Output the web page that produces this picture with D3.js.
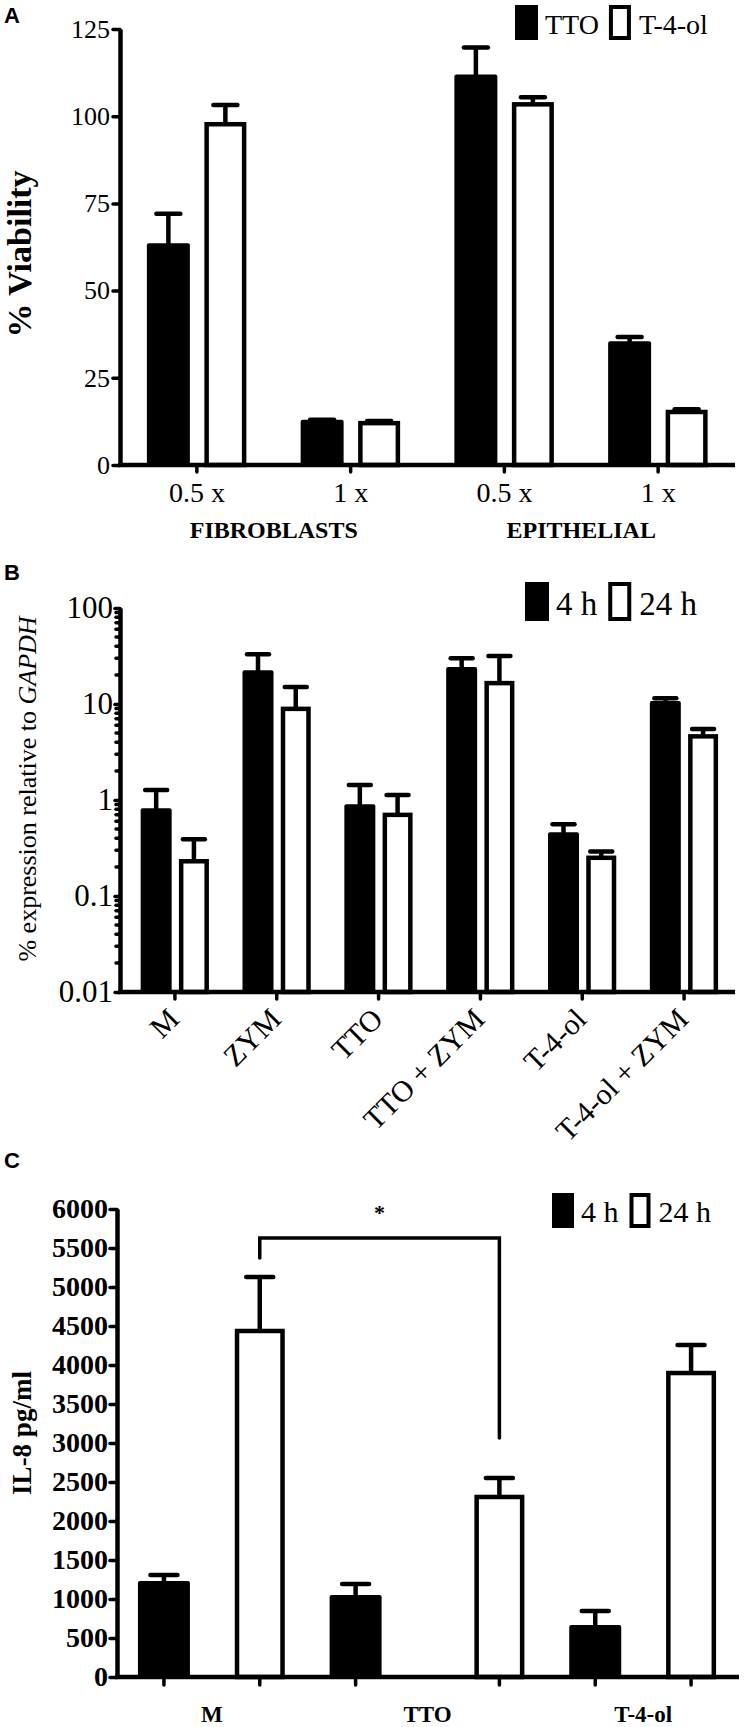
<!DOCTYPE html>
<html><head><meta charset="utf-8">
<script src="https://cdn.jsdelivr.net/npm/d3@7"></script>
<style>body{margin:0;background:#fff}</style>
</head><body>
<svg id="chart" width="744" height="1727"></svg>
<script>
// ---------- Panel A data ----------
const aDoses = ["0.5 x", "1 x", "0.5 x", "1 x"];
const aCellTypes = ["FIBROBLASTS", "EPITHELIAL"];
const aSeries = ["TTO", "T-4-ol"];
const aTTO = [63.3, 12.7, 111.7, 35.2];
const aTTOErr = [8.7, 0.3, 8.0, 1.5];
const aT4ol = [97.7, 12.0, 103.4, 15.2];
const aT4olErr = [5.5, 0.6, 2.0, 0.8];
const aTicks = [0, 25, 50, 75, 100, 125];

// ---------- Panel B data ----------
const bCategories = ["M", "ZYM", "TTO", "TTO + ZYM", "T-4-ol", "T-4-ol + ZYM"];
const bSeries = ["4 h", "24 h"];
const b4h = [0.80, 22, 0.88, 23.7, 0.45, 10.5];
const b4hErr = [0.47, 11, 0.55, 6.3, 0.11, 1.0];
const b24h = [0.23, 8.9, 0.70, 16.5, 0.25, 4.6];
const b24hErr = [0.16, 6.1, 0.43, 15.1, 0.04, 0.9];
const bTicks = [0.01, 0.1, 1, 10, 100];
const bTickLabels = ["0.01", "0.1", "1", "10", "100"];

// ---------- Panel C data ----------
const cGroups = ["M", "TTO", "T-4-ol"];
const cSeries = ["4 h", "24 h"];
const c4h = [1218, 1038, 654];
const c4hErr = [90, 154, 192];
const c24h = [4436, 2308, 3897];
const c24hErr = [692, 243, 359];
const c4hSlots = [0, 2, 4.5];
const c24hSlots = [1, 3.5, 5.5];
const cTicks = [0, 500, 1000, 1500, 2000, 2500, 3000, 3500, 4000, 4500, 5000, 5500, 6000];
const cBracketLevels = [5372, 5628, 3064]; // left end, top, right end
const cBracketPair = [0, 1]; // M 24 h vs TTO 24 h

const SERIF = "'Liberation Serif','Times New Roman',serif";
const SANS = "'Liberation Sans',Arial,sans-serif";
const svg = d3.select("#chart");

function styleAxis(g, fontSize, bold) {
  g.select(".domain").attr("stroke", "#000").attr("stroke-width", 4.5);
  g.selectAll(".tick line").attr("stroke", "#000").attr("stroke-width", 3.5).attr("stroke-linecap", "round");
  g.selectAll(".tick text").attr("fill", "#000").attr("font-family", SERIF)
    .attr("font-size", fontSize).attr("font-weight", bold ? "bold" : "normal");
}

function bars(g, xs, vals, errs, y, w, black, capW, sw) {
  const base = y.range()[0];
  vals.forEach((v, i) => {
    const cx = xs[i], yt = y(v), ye = y(v + errs[i]);
    g.append("line").attr("x1", cx).attr("x2", cx).attr("y1", yt).attr("y2", ye)
      .attr("stroke", "#000").attr("stroke-width", sw);
    g.append("line").attr("x1", cx - capW / 2).attr("x2", cx + capW / 2).attr("y1", ye).attr("y2", ye)
      .attr("stroke", "#000").attr("stroke-width", sw).attr("stroke-linecap", "round");
  });
  vals.forEach((v, i) => {
    const cx = xs[i], yt = y(v);
    if (black) {
      g.append("rect").attr("x", cx - w / 2).attr("y", yt - 1).attr("width", w).attr("height", base - yt + 1)
        .attr("fill", "#000").attr("rx", 2);
    } else {
      g.append("rect").attr("x", cx - w / 2 + sw / 2).attr("y", yt).attr("width", w - sw).attr("height", base - yt)
        .attr("fill", "#fff").attr("stroke", "#000").attr("stroke-width", sw);
    }
  });
}

function legend(x0, yTop, h, bw, fontSize, labels, textGap2) {
  const g = svg.append("g");
  g.append("rect").attr("x", x0).attr("y", yTop).attr("width", bw).attr("height", h).attr("fill", "#000");
  const t1 = g.append("text").attr("x", x0 + bw + 7).attr("y", yTop + h - 6)
    .attr("font-family", SERIF).attr("font-size", fontSize).text(labels[0]);
  const x2 = x0 + bw + 7 + t1.node().getComputedTextLength() + textGap2;
  g.append("rect").attr("x", x2 + 2).attr("y", yTop + 2).attr("width", bw - 5).attr("height", h - 4)
    .attr("fill", "#fff").attr("stroke", "#000").attr("stroke-width", 4);
  g.append("text").attr("x", x2 + bw + 7).attr("y", yTop + h - 6)
    .attr("font-family", SERIF).attr("font-size", fontSize).text(labels[1]);
}

function panelLetter(t, y) {
  svg.append("text").attr("x", 4).attr("y", y).attr("font-family", SANS).attr("font-weight", "bold")
    .attr("font-size", 22).text(t);
}

// ================= Panel A =================
{
  panelLetter("A", 23);
  const yA = d3.scaleLinear().domain([0, 125]).range([465, 29]);
  const xA = d3.scaleBand().domain(d3.range(aDoses.length)).range([120, 735]);
  const c = i => xA(i) + xA.bandwidth() / 2;
  const g = svg.append("g");
  bars(g, aTTO.map((d, i) => c(i) - 28.5), aTTO, aTTOErr, yA, 43, true, 24, 4.5);
  bars(g, aT4ol.map((d, i) => c(i) + 28.5), aT4ol, aT4olErr, yA, 42, false, 24, 4.5);

  const gy = svg.append("g").attr("transform", "translate(120,0)")
    .call(d3.axisLeft(yA).tickValues(aTicks).tickSize(7).tickPadding(3).tickSizeOuter(0));
  styleAxis(gy, 26, false);
  svg.append("line").attr("x1", 118).attr("x2", 735).attr("y1", 465).attr("y2", 465)
    .attr("stroke", "#000").attr("stroke-width", 4.5);
  const gx = svg.append("g").attr("transform", "translate(0,465)")
    .call(d3.axisBottom(xA).tickFormat(i => aDoses[i]).tickSize(7).tickPadding(10).tickSizeOuter(0));
  gx.select(".domain").remove();
  styleAxis(gx, 28, false);

  aCellTypes.forEach((t, k) => {
    svg.append("text").attr("x", (c(2 * k) + c(2 * k + 1)) / 2).attr("y", 538)
      .attr("text-anchor", "middle").attr("font-family", SERIF).attr("font-weight", "bold")
      .attr("font-size", 24).text(t);
  });
  svg.append("text").attr("transform", "translate(31,254) rotate(-90)").attr("text-anchor", "middle")
    .attr("font-family", SERIF).attr("font-weight", "bold").attr("font-size", 34).text("% Viability");
  legend(515, 5, 35, 23, 28, aSeries, 10);
}

// ================= Panel B =================
{
  panelLetter("B", 580);
  const yB = d3.scaleLog().domain([0.01, 100]).range([992, 608]);
  const xB = d3.scaleBand().domain(bCategories).range([124, 735]);
  const c = d => xB(d) + xB.bandwidth() / 2;
  const g = svg.append("g");
  bars(g, bCategories.map(d => c(d) - 18.75), b4h, b4hErr, yB, 31, true, 22, 4.5);
  bars(g, bCategories.map(d => c(d) + 19), b24h, b24hErr, yB, 30, false, 22, 4.5);

  const minors = [];
  for (let e = -2; e < 2; e++) for (let m = 2; m <= 9; m++) minors.push(m * Math.pow(10, e));
  svg.append("g").selectAll("line").data(minors).join("line")
    .attr("x1", 116).attr("x2", 120).attr("y1", d => yB(d)).attr("y2", d => yB(d))
    .attr("stroke", "#000").attr("stroke-width", 3.5).attr("stroke-linecap", "round");
  const gy = svg.append("g").attr("transform", "translate(120,0)")
    .call(d3.axisLeft(yB).tickValues(bTicks).tickFormat((d, i) => bTickLabels[i])
      .tickSize(5).tickPadding(2).tickSizeOuter(0));
  styleAxis(gy, 31, false);
  svg.append("line").attr("x1", 118).attr("x2", 735).attr("y1", 992).attr("y2", 992)
    .attr("stroke", "#000").attr("stroke-width", 4.5);
  const gx = svg.append("g").attr("transform", "translate(0,992)")
    .call(d3.axisBottom(xB).tickSize(7).tickSizeOuter(0));
  gx.select(".domain").remove();
  styleAxis(gx, 30, false);
  gx.selectAll(".tick text").attr("y", null).attr("dy", null)
    .attr("text-anchor", "end").attr("transform", "translate(6,29) rotate(-45)");

  const lbl = svg.append("text").attr("transform", "translate(36,789) rotate(-90)").attr("text-anchor", "middle")
    .attr("font-family", SERIF).attr("font-size", 26);
  lbl.append("tspan").text("% expression relative to ");
  lbl.append("tspan").attr("font-style", "italic").text("GAPDH");
  legend(525, 582, 39, 24, 33, bSeries, 11);
}

// ================= Panel C =================
{
  panelLetter("C", 1168);
  const yC = d3.scaleLinear().domain([0, 6000]).range([1677, 1209]);
  const xC = d3.scaleLinear().domain([-0.5, 6]).range([116, 739]);
  const g = svg.append("g");
  bars(g, c4hSlots.map(s => xC(s)), c4h, c4hErr, yC, 52, true, 27, 4.5);
  bars(g, c24hSlots.map(s => xC(s)), c24h, c24hErr, yC, 50, false, 27, 4.5);

  const gy = svg.append("g").attr("transform", "translate(117,0)")
    .call(d3.axisLeft(yC).tickValues(cTicks).tickFormat(d3.format("d")).tickSize(7).tickPadding(2).tickSizeOuter(0));
  styleAxis(gy, 28, true);
  svg.append("line").attr("x1", 115).attr("x2", 739).attr("y1", 1677).attr("y2", 1677)
    .attr("stroke", "#000").attr("stroke-width", 4.5);
  const allSlots = c4hSlots.concat(c24hSlots).sort((a, b) => a - b);
  svg.append("g").selectAll("line").data(allSlots).join("line")
    .attr("x1", d => xC(d)).attr("x2", d => xC(d)).attr("y1", 1677).attr("y2", 1685)
    .attr("stroke", "#000").attr("stroke-width", 3.5).attr("stroke-linecap", "round");
  cGroups.forEach((t, i) => {
    svg.append("text").attr("x", xC((c4hSlots[i] + c24hSlots[i]) / 2)).attr("y", 1722)
      .attr("text-anchor", "middle").attr("font-family", SERIF).attr("font-weight", "bold")
      .attr("font-size", 23).text(t);
  });
  const xa = xC(c24hSlots[cBracketPair[0]]), xb = xC(c24hSlots[cBracketPair[1]]);
  svg.append("path")
    .attr("d", `M${xa},${yC(cBracketLevels[0])}V${yC(cBracketLevels[1])}H${xb}V${yC(cBracketLevels[2])}`)
    .attr("fill", "none").attr("stroke", "#000").attr("stroke-width", 3.5).attr("stroke-linecap", "round");
  svg.append("text").attr("x", (xa + xb) / 2).attr("y", 1220).attr("text-anchor", "middle")
    .attr("font-family", SERIF).attr("font-weight", "bold").attr("font-size", 22).text("*");

  svg.append("text").attr("transform", "translate(31,1433) rotate(-90)").attr("text-anchor", "middle")
    .attr("font-family", SERIF).attr("font-weight", "bold").attr("font-size", 27).text("IL-8 pg/ml");
  legend(552, 1193, 35, 22, 30, cSeries, 11);
}
</script>
</body></html>
